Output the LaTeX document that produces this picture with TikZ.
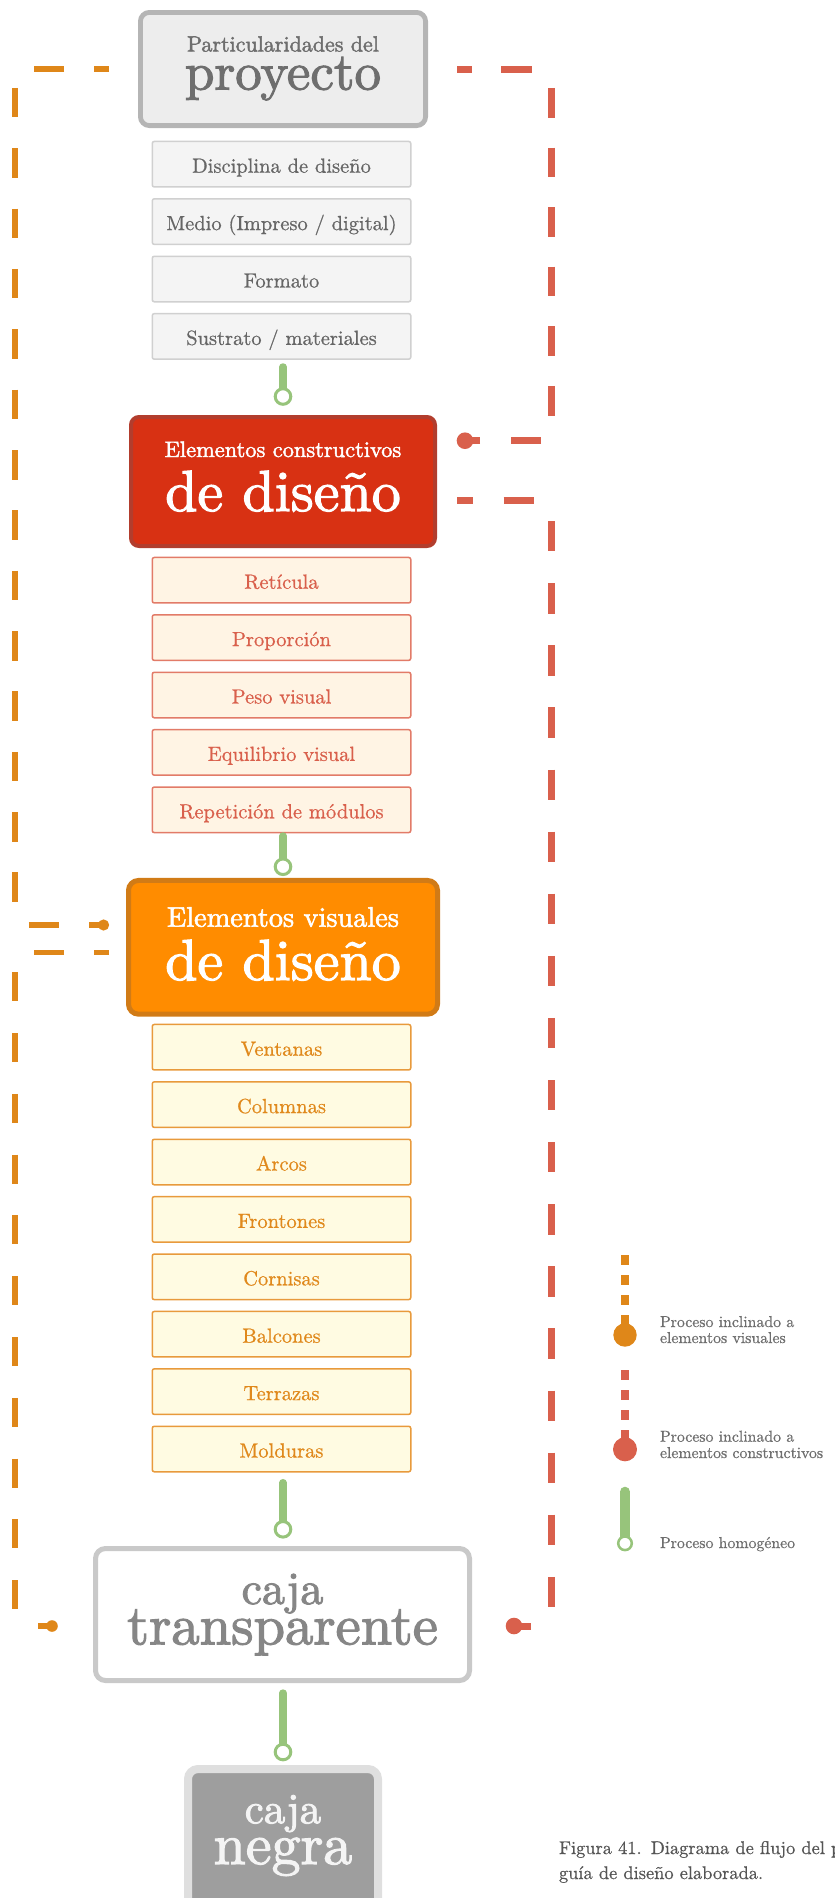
\documentclass[tikz,border=0pt]{standalone}
\usepackage{fontspec}
\newfontfamily\sbf[FakeBold=2]{lmroman10-regular.otf}
\newfontfamily\rgf[FakeBold=0.7]{lmroman10-regular.otf}
\usetikzlibrary{calc}
\definecolor{topfill}{HTML}{EDEDED}
\definecolor{topline}{HTML}{B5B5B5}
\definecolor{toptext}{HTML}{6E6E6E}
\definecolor{gsubfill}{HTML}{F4F4F4}
\definecolor{gsubline}{HTML}{D0D0D0}
\definecolor{gsubtext}{HTML}{666666}
\definecolor{redfill}{HTML}{D83113}
\definecolor{redline}{HTML}{B23D2D}
\definecolor{rsubfill}{HTML}{FFF4E4}
\definecolor{rsubline}{HTML}{E27B68}
\definecolor{rsubtext}{HTML}{D9604C}
\definecolor{orfill}{HTML}{FF8C00}
\definecolor{orline}{HTML}{D17B16}
\definecolor{osubfill}{HTML}{FFFBE2}
\definecolor{osubline}{HTML}{E89A3C}
\definecolor{osubtext}{HTML}{E0891C}
\definecolor{viscol}{HTML}{DF8719}
\definecolor{concol}{HTML}{D9604C}
\definecolor{homcol}{HTML}{97C47B}
\definecolor{ctline}{HTML}{C9C9C9}
\definecolor{cttext}{HTML}{868686}
\definecolor{cnfill}{HTML}{9E9E9E}
\definecolor{cnline}{HTML}{DFDFDF}
\definecolor{cntext}{HTML}{F4F4F4}
\definecolor{legtext}{HTML}{6E6E6E}
\definecolor{captext}{HTML}{555555}
\begin{document}
\begin{tikzpicture}[x=1pt,y=-1pt,
  every node/.style={outer sep=0pt},
  subbox/.style={draw, line width=1.5pt, rounded corners=2pt, minimum width=258.5pt, minimum height=45.5pt, inner sep=0pt, text height=17pt, text depth=0pt, font=\rgf\fontsize{20.5}{24}\selectfont},
  graysub/.style={subbox, fill=gsubfill, draw=gsubline, text=gsubtext},
  redsub/.style={subbox, fill=rsubfill, draw=rsubline, text=rsubtext},
  orsub/.style={subbox, fill=osubfill, draw=osubline, text=osubtext},
  mainbox/.style={inner sep=0pt},
  title/.style={anchor=base, inner sep=0pt},
  homog/.style={draw=homcol, line width=7.4pt, line cap=round},
  ring/.style={draw=homcol, fill=white, line width=3pt},
  visdash/.style={draw=viscol, line width=5.2pt},
  condash/.style={draw=concol, line width=7pt},
  legtxt/.style={anchor=base west, inner sep=0pt, text=legtext, font=\rgf\fontsize{15.8}{16}\selectfont},
  captxt/.style={anchor=base west, inner sep=0pt, text=captext, font=\rgf\fontsize{18.4}{22}\selectfont}
]
\useasboundingbox (0,0) rectangle (835,1898);

% --- Particularidades del proyecto
\node[mainbox, draw=topline, fill=topfill, line width=4.8pt, minimum width=285.2pt, minimum height=113.2pt, rounded corners=9pt] (top) at (283,69) {};
\node[title, text=toptext, font=\sbf\fontsize{22}{26}\selectfont] (topA) at ($(top.center)+(0,-17.5)$) {Particularidades del};
\node[title, text=toptext, font=\sbf\fontsize{53}{60}\selectfont] (topB) at ($(top.center)+(0,20.5)$) {proyecto};

\node[graysub] (g1) at (281.5,164.2) {Disciplina de diseño};
\node[graysub] (g2) at (281.5,221.6) {Medio (Impreso / digital)};
\node[graysub] (g3) at (281.5,279.0) {Formato};
\node[graysub] (g4) at (281.5,336.4) {Sustrato / materiales};

% --- Elementos constructivos
\node[mainbox, draw=redline, fill=redfill, line width=4pt, minimum width=304pt, minimum height=129pt, rounded corners=8pt] (red) at (283,481.5) {};
\node[title, text=white, font=\sbf\fontsize{22.4}{26}\selectfont] (redA) at ($(red.center)+(0,-24.5)$) {Elementos constructivos};
\node[title, text=white, font=\sbf\fontsize{58}{64}\selectfont] (redB) at ($(red.center)+(0,29.5)$) {de diseño};

\node[redsub] (r1) at (281.5,580.2) {Retícula};
\node[redsub] (r2) at (281.5,637.6) {Proporción};
\node[redsub] (r3) at (281.5,695.0) {Peso visual};
\node[redsub] (r4) at (281.5,752.4) {Equilibrio visual};
\node[redsub] (r5) at (281.5,809.8) {Repetición de módulos};

% --- Elementos visuales
\node[mainbox, draw=orline, fill=orfill, line width=5pt, minimum width=309pt, minimum height=133.7pt, rounded corners=10pt] (vis) at (283,947.3) {};
\node[title, text=white, font=\sbf\fontsize{28.3}{32}\selectfont] (visA) at ($(vis.center)+(0,-20.6)$) {Elementos visuales};
\node[title, text=white, font=\sbf\fontsize{58}{64}\selectfont] (visB) at ($(vis.center)+(0,32.7)$) {de diseño};

\node[orsub] (o1) at (281.5,1047.2) {Ventanas};
\node[orsub] (o2) at (281.5,1104.6) {Columnas};
\node[orsub] (o3) at (281.5,1162.0) {Arcos};
\node[orsub] (o4) at (281.5,1219.4) {Frontones};
\node[orsub] (o5) at (281.5,1276.8) {Cornisas};
\node[orsub] (o6) at (281.5,1334.2) {Balcones};
\node[orsub] (o7) at (281.5,1391.6) {Terrazas};
\node[orsub] (o8) at (281.5,1449.0) {Molduras};

% --- caja transparente
\node[mainbox, draw=ctline, fill=white, line width=5pt, minimum width=374pt, minimum height=132pt, rounded corners=10pt] (ct) at (282.5,1614.5) {};
\node[title, text=cttext, font=\sbf\fontsize{46}{50}\selectfont] (ctA) at ($(ct.center)+(0,-10.5)$) {caja};
\node[title, text=cttext, font=\sbf\fontsize{56.7}{62}\selectfont] (ctB) at ($(ct.center)+(0,29.8)$) {transparente};

% --- caja negra
\node[mainbox, draw=cnline, fill=cnfill, line width=8pt, minimum width=190pt, minimum height=162pt, rounded corners=10pt] (neg) at (283,1850) {};
\node[title, text=cntext, font=\sbf\fontsize{43}{48}\selectfont] (negA) at ($(neg.north)+(0,54.3)$) {caja};
\node[title, text=cntext, font=\sbf\fontsize{58}{64}\selectfont] (negB) at ($(neg.north)+(0,95)$) {negra};

% --- homogeneous connectors
\coordinate (h1a) at ($(g4.south -| red.north)+(0,7.8)$);
\coordinate (h1b) at ($(red.north)+(0,-20.5)$);
\draw[homog] (h1a) -- (h1b);
\draw[ring] (h1b) circle[radius=7.8pt];
\coordinate (h2a) at ($(r5.south -| vis.north)+(0,3.4)$);
\coordinate (h2b) at ($(vis.north)+(0,-13.7)$);
\draw[homog] (h2a) -- (h2b);
\draw[ring] (h2b) circle[radius=7.8pt];
\coordinate (h3a) at ($(o8.south -| vis.north)+(0,10.9)$);
\coordinate (h3b) at ($(ct.north -| vis.north)+(0,-19.2)$);
\draw[homog] (h3a) -- (h3b);
\draw[ring] (h3b) circle[radius=7.8pt];
\coordinate (h4a) at ($(ct.south -| neg.north)+(0,12.5)$);
\coordinate (h4b) at ($(neg.north)+(0,-17)$);
\draw[homog] (h4a) -- (h4b);
\draw[ring] (h4b) circle[radius=7.8pt];

% --- dashed process lines (each leg dashed on its own)
\coordinate (railL) at (15,0);
\coordinate (railR) at (551,0);
% orange A: proyecto -> elementos visuales
\coordinate (vA0) at ($(top.west)+(-31.4,0)$);
\coordinate (vA1) at ($(vis.west)+(-24.9,-22.3)$);
\coordinate (vAc1) at (vA0 -| railL);
\coordinate (vAc2) at (vA1 -| railL);
\draw[visdash, dash pattern=on 30pt off 30pt, dash phase=15pt] (vA0) -- (vAc1);
\draw[visdash, dash pattern=on 29.5pt off 30.85pt, dash phase=41.45pt] (vAc1) -- (vAc2);
\draw[visdash, dash pattern=on 29.6pt off 30.5pt, dash phase=46.2pt] (vAc2) -- (vA1);
\fill[viscol] (vA1) circle[radius=5.6pt];
% orange B: elementos visuales -> caja transparente
\coordinate (vB0) at ($(vis.west)+(-19.5,5.4)$);
\coordinate (vB1) at ($(ct.west)+(-43.5,11.5)$);
\coordinate (vBc1) at (vB0 -| railL);
\coordinate (vBc2) at (vB1 -| railL);
\draw[visdash, dash pattern=on 30pt off 30pt, dash phase=15pt] (vB0) -- (vBc1);
\draw[visdash, dash pattern=on 29pt off 31.8pt, dash phase=41.3pt] (vBc1) -- (vBc2);
\draw[visdash, dash pattern=on 30pt off 30pt, dash phase=37pt] (vBc2) -- (vB1);
\fill[viscol] (vB1) circle[radius=5.8pt];
% red A: proyecto -> elementos constructivos
\coordinate (cA0) at ($(top.east)+(31.4,0)$);
\coordinate (cA1) at ($(red.east)+(30,-40.8)$);
\coordinate (cAc1) at (cA0 -| railR);
\coordinate (cAc2) at (cA1 -| railR);
\draw[condash, dash pattern=on 30.5pt off 29pt, dash phase=15.5pt] (cA0) -- (cAc1);
\draw[condash, dash pattern=on 29.6pt off 30pt, dash phase=40.7pt] (cAc1) -- (cAc2);
\draw[condash, dash pattern=on 30.5pt off 30.5pt, dash phase=51pt] (cAc2) -- (cA1);
\fill[concol] (cA1) circle[radius=8.3pt];
% red B: elementos constructivos -> caja transparente
\coordinate (cB0) at ($(red.east)+(22,18.5)$);
\coordinate (cB1) at ($(ct.east)+(44.5,11.5)$);
\coordinate (cBc1) at (cB0 -| railR);
\coordinate (cBc2) at (cB1 -| railR);
\draw[condash, dash pattern=on 30.5pt off 31pt, dash phase=15pt] (cB0) -- (cBc1);
\draw[condash, dash pattern=on 30.3pt off 31.8pt, dash phase=41pt] (cBc1) -- (cBc2);
\draw[condash, dash pattern=on 30pt off 30pt, dash phase=40pt] (cBc2) -- (cB1);
\fill[concol] (cB1) circle[radius=8.3pt];

% --- legend
\coordinate (lv0) at (625,1255);
\coordinate (lv1) at (625,1335);
\draw[draw=viscol, line width=7.3pt, dash pattern=on 10pt off 10pt] (lv0) -- (lv1);
\fill[viscol] (lv1) circle[radius=11.7pt];
\coordinate (lc0) at (625,1370);
\coordinate (lc1) at (625,1449.3);
\draw[draw=concol, line width=7.3pt, dash pattern=on 10pt off 10pt] (lc0) -- (lc1);
\fill[concol] (lc1) circle[radius=12pt];
\coordinate (lh0) at (625,1491.7);
\coordinate (lh1) at (625,1543.3);
\draw[draw=homcol, line width=10pt, line cap=round] (lh0) -- (lh1);
\draw[draw=homcol, fill=white, line width=2.5pt] (lh1) circle[radius=6.8pt];

\node[legtxt] (lt1) at (660,1327) {Proceso inclinado a};
\node[legtxt] (lt2) at (660,1343) {elementos visuales};
\node[legtxt] (lt3) at (660,1441.7) {Proceso inclinado a};
\node[legtxt] (lt4) at (660,1458) {elementos constructivos};
\node[legtxt] (lt5) at (660,1548) {Proceso homogéneo};

% --- caption
\node[captxt] (cap1) at (559,1854) {Figura 41.\enspace Diagrama de flujo del p};
\node[captxt] (cap2) at (559,1879) {guía de diseño elaborada.};
\end{tikzpicture}
\end{document}
